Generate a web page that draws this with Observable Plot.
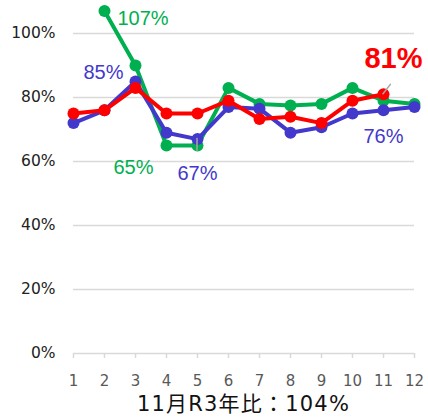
<!DOCTYPE html>
<html>
<head>
<meta charset="utf-8">
<script src="https://cdn.jsdelivr.net/npm/d3@7"></script>
<script src="https://cdn.jsdelivr.net/npm/@observablehq/plot@0.6"></script>
<style>
  html, body { margin: 0; padding: 0; background: #fff; }
  #chart { width: 428px; }
  #title { width: 341px; margin-left: 73px; height: 28px; line-height: 28px; text-align: center;
    font-family: "DejaVu Sans", "Noto Sans CJK JP", sans-serif; font-size: 21px; letter-spacing: 1.2px; color: #111; white-space: nowrap; }
</style>
</head>
<body>
<div id="chart"></div>
<div id="title"></div>
<script>
const months = [1, 2, 3, 4, 5, 6, 7, 8, 9, 10, 11, 12];
const greenValues = [null, 107, 90, 65, 65, 83, 78, 77.5, 78, 83, 79, 78];
const blueValues  = [72, 76, 85, 69, 67, 77, 76.5, 69, 70.7, 75, 76, 77];
const redValues   = [75, 76, 83, 75, 75, 79, 73.3, 74, 72, 79, 81, null];
const yTicks = [0, 20, 40, 60, 80, 100];
const titleText = "11月R3年比：104%";

const seriesColors = {green: "#00B050", blue: "#4338CC", red: "#FF0000"};
const toRows = (name, vals) => months.map((m, i) => ({series: name, month: m, value: vals[i]})).filter(d => d.value != null);
const greenRows = toRows("green", greenValues);
const blueRows = toRows("blue", blueValues);
const redRows = toRows("red", redValues);

// labels anchored on data points
const labels = [
  {series: "green", month: 2, value: 107, anchor: "start", dx: 13, dy: 7, size: 20, weight: "normal"},
  {series: "blue", month: 3, value: 85, anchor: "end", dx: -12, dy: -9, size: 20, weight: "normal"},
  {series: "green", month: 4, value: 65, anchor: "end", dx: -13, dy: 22, size: 20, weight: "normal"},
  {series: "blue", month: 5, value: 67, anchor: "middle", dx: 0, dy: 34, size: 20, weight: "normal"},
  {series: "blue", month: 11, value: 76, anchor: "middle", dx: 0, dy: 26, size: 20, weight: "normal"},
  {series: "red", month: 11, value: 81, anchor: "middle", dx: 10, dy: -36, size: 29, weight: "bold"}
];
const leaders = [
  {month: 5, value: 67, dx: 0, dy: 0, length: 15, rotate: 180},
  {month: 11, value: 81, dx: 3, dy: -4, length: 15, rotate: 38}
];
const lineShape = {draw(ctx, l) { ctx.moveTo(0, 0); ctx.lineTo(0, -l); }};

const seriesMarks = (rows, color) => [
  Plot.line(rows, {x: "month", y: "value", stroke: color, strokeWidth: 4}),
  Plot.dot(rows, {x: "month", y: "value", fill: color, r: 6})
];

const chart = Plot.plot({
  width: 428,
  height: 390,
  marginLeft: 73,
  marginRight: 14,
  marginTop: 1,
  marginBottom: 37,
  style: {fontFamily: "DejaVu Sans, sans-serif", background: "#fff"},
  x: {type: "linear", domain: [1, 12], ticks: months, tickFormat: d => String(d), label: null},
  y: {domain: [0, 110], ticks: yTicks, label: null},
  marks: [
    Plot.gridY(yTicks.filter(t => t > 0), {stroke: "#d9d9d9", strokeOpacity: 1, strokeWidth: 1.5}),
    Plot.ruleY([0], {stroke: "#d9d9d9", strokeWidth: 1.5}),
    Plot.axisX({ticks: months, tickSize: 5, tickPadding: 17, stroke: "#d9d9d9", strokeWidth: 1.5, fill: "#595959", fontSize: 15, tickFormat: d => String(d), label: null}),
    Plot.axisY({ticks: yTicks, tickSize: 0, tickPadding: 18, fill: "#222", fontSize: 15.5, fontWeight: "normal", tickFormat: d => d + "%", label: null}),
    ...seriesMarks(greenRows, seriesColors.green),
    ...seriesMarks(blueRows, seriesColors.blue),
    ...seriesMarks(redRows, seriesColors.red),
    Plot.vector(leaders, {x: "month", y: "value", dx: "dx", dy: "dy", length: "length", rotate: "rotate", anchor: "start", shape: lineShape, stroke: "#a6a6a6", strokeWidth: 1.5}),
    ...labels.map(l => Plot.text([l], {
      x: "month", y: "value", text: d => d.value + "%", textAnchor: l.anchor, dx: l.dx, dy: l.dy,
      fill: seriesColors[l.series], fontSize: l.size, fontWeight: l.weight,
      fontFamily: "Liberation Sans, Arial, sans-serif", lineAnchor: "middle"
    }))
  ]
});
document.getElementById("chart").appendChild(chart);
document.getElementById("title").textContent = titleText;
</script>
</body>
</html>
